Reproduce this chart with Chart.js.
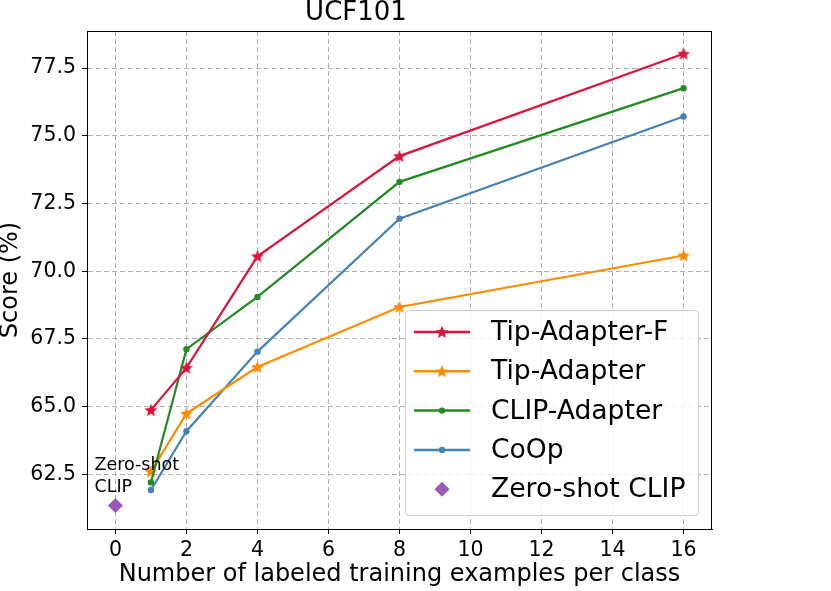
<!DOCTYPE html>
<html><head><meta charset="utf-8">
<script src="https://cdn.jsdelivr.net/npm/chart.js@4.4.1/dist/chart.umd.min.js"></script>
<style>html,body{margin:0;padding:0;background:#fff;} #c{display:block;}</style>
</head><body>
<canvas id="c" width="831" height="591"></canvas>
<script>
// ---- data ----
const shots = [1, 2, 4, 8, 16];
const tipAdapterF = [64.87, 66.43, 70.55, 74.25, 78.03];
const tipAdapter = [62.60, 64.74, 66.46, 68.68, 70.58];
const clipAdapter = [62.20, 67.12, 69.05, 73.30, 76.76];
const coop = [61.92, 64.09, 67.03, 71.94, 75.71];
const zeroShotX = [0];
const zeroShotClip = [61.35];
const xTicks = [0, 2, 4, 6, 8, 10, 12, 14, 16];
const yTicks = [62.5, 65.0, 67.5, 70.0, 72.5, 75.0, 77.5];
const xRange = [-0.8, 16.8];
const yRange = [60.48, 78.87];
const seriesLabels = ['Tip-Adapter-F', 'Tip-Adapter', 'CLIP-Adapter', 'CoOp', 'Zero-shot CLIP'];
const annotationLines = ['Zero-shot', 'CLIP'];
const titleText = 'UCF101';
const xTitle = 'Number of labeled training examples per class';
const yTitle = 'Score (%)';

const FONT = 'DejaVu Sans';
Chart.defaults.font.family = FONT;
Chart.defaults.color = '#000';

const C_RED = '#DC143C', C_ORANGE = '#FF8C00', C_GREEN = '#228B22', C_BLUE = '#4682B4', C_PURPLE = '#9B59B6';

function starImage(color, r) {
  const s = Math.ceil(r * 2 + 2);
  const c = document.createElement('canvas');
  c.width = s; c.height = s;
  const g = c.getContext('2d');
  g.translate(s / 2, s / 2 + 0.5);
  g.beginPath();
  for (let i = 0; i < 10; i++) {
    const rad = i % 2 === 0 ? r : r * 0.45;
    const a = -Math.PI / 2 + i * Math.PI / 5;
    g.lineTo(rad * Math.cos(a), rad * Math.sin(a));
  }
  g.closePath();
  g.fillStyle = color;
  g.fill();
  return c;
}
const starRed = starImage(C_RED, 6.8);
const starOrange = starImage(C_ORANGE, 6.8);

const pts = (xs, ys) => xs.map((x, i) => ({x: x, y: ys[i]}));

const datasets = [
  {label: seriesLabels[0], data: pts(shots, tipAdapterF), borderColor: C_RED, backgroundColor: C_RED,
   pointStyle: starRed, borderWidth: 2.2, order: 1},
  {label: seriesLabels[1], data: pts(shots, tipAdapter), borderColor: C_ORANGE, backgroundColor: C_ORANGE,
   pointStyle: starOrange, borderWidth: 2.2, order: 3},
  {label: seriesLabels[2], data: pts(shots, clipAdapter), borderColor: C_GREEN, backgroundColor: C_GREEN,
   pointStyle: 'circle', pointRadius: 3.2, borderWidth: 2.2, order: 2},
  {label: seriesLabels[3], data: pts(shots, coop), borderColor: C_BLUE, backgroundColor: C_BLUE,
   pointStyle: 'circle', pointRadius: 3.2, borderWidth: 2.2, order: 4},
  {label: seriesLabels[4], data: pts(zeroShotX, zeroShotClip), borderColor: C_PURPLE, backgroundColor: C_PURPLE,
   pointStyle: 'rectRot', pointRadius: 7.5, showLine: false, borderWidth: 0, order: 0}
];
datasets.forEach(d => { d.pointBorderWidth = 0; d.tension = 0; d.fill = false; if (d.pointRadius === undefined) d.pointRadius = 7; });

const overlay = {
  id: 'overlay',
  afterDatasetsDraw(chart) {
    const ctx = chart.ctx, a = chart.chartArea;
    const xs = chart.scales.x, ys = chart.scales.y;
    // frame
    ctx.save();
    ctx.strokeStyle = '#000'; ctx.lineWidth = 1;
    ctx.strokeRect(Math.round(a.left) + 0.5, Math.round(a.top) + 0.5, Math.round(a.right - a.left) - 1, Math.round(a.bottom - a.top));
    ctx.restore();
    // annotation
    const px = xs.getPixelForValue(zeroShotX[0]), py = ys.getPixelForValue(zeroShotClip[0]);
    ctx.save();
    ctx.font = '17.5px "' + FONT + '"';
    ctx.fillStyle = '#000'; ctx.textAlign = 'left'; ctx.textBaseline = 'alphabetic';
    ctx.fillText(annotationLines[0], px - 21, py - 35);
    ctx.fillText(annotationLines[1], px - 21, py - 13.5);
    ctx.restore();
    // legend
    const w = 293, h = 205;
    const right = a.right - 14, bottom = a.bottom - 14;
    const left = right - w, top = bottom - h;
    ctx.save();
    ctx.beginPath();
    if (ctx.roundRect) ctx.roundRect(left + 0.5, top + 0.5, w, h, 4); else ctx.rect(left + 0.5, top + 0.5, w, h);
    ctx.fillStyle = 'rgba(255,255,255,0.8)';
    ctx.fill();
    ctx.strokeStyle = '#cccccc'; ctx.lineWidth = 1;
    ctx.stroke();
    ctx.font = '26.6px "' + FONT + '"';
    ctx.textBaseline = 'middle'; ctx.textAlign = 'left';
    datasets.forEach((d, i) => {
      const cy = top + 22 + i * 39.3;
      const mx = left + 37;
      if (d.showLine !== false) {
        ctx.beginPath();
        ctx.strokeStyle = d.borderColor; ctx.lineWidth = 2.5;
        ctx.moveTo(left + 9, cy); ctx.lineTo(left + 65, cy); ctx.stroke();
      }
      ctx.fillStyle = d.backgroundColor;
      if (d.pointStyle instanceof HTMLCanvasElement) {
        ctx.drawImage(d.pointStyle, mx - d.pointStyle.width / 2, cy - d.pointStyle.height / 2);
      } else if (d.pointStyle === 'circle') {
        ctx.beginPath(); ctx.arc(mx, cy, d.pointRadius, 0, Math.PI * 2); ctx.fill();
      } else if (d.pointStyle === 'rectRot') {
        const r = d.pointRadius;
        ctx.beginPath(); ctx.moveTo(mx - r, cy); ctx.lineTo(mx, cy - r); ctx.lineTo(mx + r, cy); ctx.lineTo(mx, cy + r); ctx.closePath(); ctx.fill();
      }
      ctx.fillStyle = '#000';
      ctx.fillText(d.label, left + 86, cy + 1);
    });
    ctx.restore();
  }
};

new Chart(document.getElementById('c'), {
  type: 'line',
  data: {datasets: datasets},
  options: {
    responsive: false, animation: false, devicePixelRatio: 1,
    layout: {padding: {top: 0, right: 119, bottom: 0, left: 0}},
    plugins: {
      legend: {display: false}, tooltip: {enabled: false},
      title: {display: true, text: titleText, color: '#000',
        font: {size: 26, weight: 'normal', lineHeight: 1}, padding: {top: 0, bottom: 5}}
    },
    scales: {
      x: {
        type: 'linear', min: xRange[0], max: xRange[1],
        afterBuildTicks: s => { s.ticks = xTicks.map(v => ({value: v})); },
        afterFit: s => { s.height = 62; },
        grid: {color: '#b0b0b0', lineWidth: 1, tickLength: 5, tickColor: '#000', tickWidth: 1},
        border: {display: true, color: '#000', width: 1, dash: [5, 3]},
        ticks: {font: {size: 20.5}, color: '#000', padding: 4, maxRotation: 0, autoSkip: false,
          callback: v => String(v)},
        title: {display: true, text: xTitle, color: '#000', font: {size: 24, lineHeight: 1}, padding: {top: 0, bottom: 4}}
      },
      y: {
        type: 'linear', min: yRange[0], max: yRange[1],
        afterBuildTicks: s => { s.ticks = yTicks.map(v => ({value: v})); },
        afterFit: s => { s.width = 87; },
        grid: {color: '#b0b0b0', lineWidth: 1, tickLength: 5, tickColor: '#000', tickWidth: 1},
        border: {display: true, color: '#000', width: 1, dash: [5, 3]},
        ticks: {font: {size: 20.5}, color: '#000', padding: 6, autoSkip: false,
          callback: v => Number(v).toFixed(1)},
        title: {display: true, text: yTitle, color: '#000', font: {size: 24, lineHeight: 0.9}, padding: {top: 0, bottom: 0}}
      }
    }
  },
  plugins: [overlay]
});
</script>
</body></html>
